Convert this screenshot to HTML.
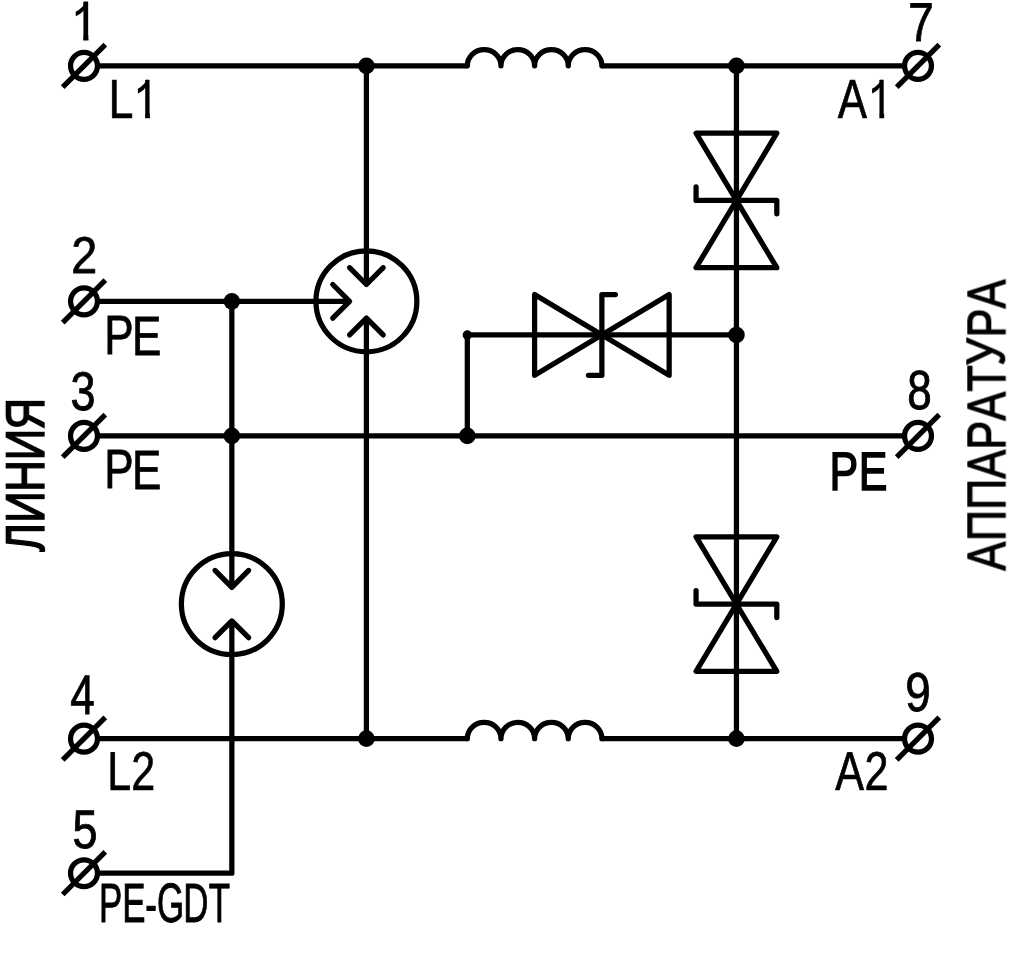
<!DOCTYPE html>
<html lang="ru">
<head>
<meta charset="utf-8">
<title>Схема</title>
<style>
html, body { margin: 0; padding: 0; background: #fff; }
body { width: 1036px; height: 956px; overflow: hidden; font-family: "Liberation Sans", sans-serif; }
svg { display: block; }
svg text { font-family: "Liberation Sans", sans-serif; fill: #000; text-rendering: geometricPrecision; }
</style>
</head>
<body>
<svg width="1036" height="956" viewBox="0 0 1036 956">
<defs>
<clipPath id="c1"><path d="M83.25,-1.00 H88.40 V43.80 H83.25 Z"/></clipPath>
<clipPath id="c2"><path d="M145.13,76.06 H149.91 V121.03 H145.13 Z M109.00,76.06 H133.40 V121.03 H109.00 Z"/></clipPath>
<clipPath id="c3"><path d="M879.36,76.06 H884.16 V121.03 H879.36 Z M835.08,76.06 H868.53 V121.03 H835.08 Z"/></clipPath>
</defs>
<rect x="0" y="0" width="1036" height="956" fill="#fff"/>
<g fill="none" stroke="#000" stroke-width="5.25">
<line x1="97.46" y1="65.85" x2="467.32" y2="65.85" stroke-linecap="butt"/>
<line x1="601.88" y1="65.85" x2="904.54" y2="65.85" stroke-linecap="butt"/>
<path d="M467.32,65.85 a16.82,16.17 0 0 1 33.64,0 a16.82,16.17 0 0 1 33.64,0 a16.82,16.17 0 0 1 33.64,0 a16.82,16.17 0 0 1 33.64,0" stroke-linecap="round" stroke-linejoin="round"/>
<line x1="97.46" y1="738.65" x2="467.32" y2="738.65" stroke-linecap="butt"/>
<line x1="601.88" y1="738.65" x2="904.54" y2="738.65" stroke-linecap="butt"/>
<path d="M467.32,738.65 a16.82,16.17 0 0 1 33.64,0 a16.82,16.17 0 0 1 33.64,0 a16.82,16.17 0 0 1 33.64,0 a16.82,16.17 0 0 1 33.64,0" stroke-linecap="round" stroke-linejoin="round"/>
<line x1="97.46" y1="435.89" x2="904.54" y2="435.89" stroke-linecap="butt"/>
<line x1="97.46" y1="301.33" x2="349.58" y2="301.33" stroke-linecap="butt"/>
<line x1="231.84" y1="301.33" x2="231.84" y2="587.27" stroke-linecap="butt"/>
<path d="M231.84,620.91 L231.84,873.21 L97.46,873.21" stroke-linejoin="round"/>
<line x1="366.40" y1="65.85" x2="366.40" y2="284.51" stroke-linecap="butt"/>
<line x1="366.40" y1="318.15" x2="366.40" y2="738.65" stroke-linecap="butt"/>
<line x1="736.44" y1="65.85" x2="736.44" y2="738.65" stroke-linecap="butt"/>
<path d="M467.32,435.89 L467.32,334.97 L736.44,334.97" stroke-linejoin="round"/>
<circle cx="467.32" cy="334.97" r="4.70" fill="#000" stroke="none"/>
<circle cx="366.40" cy="301.33" r="50.46"/>
<path d="M349.58,267.69 L366.40,284.51 L383.22,267.69" stroke-linecap="round" stroke-linejoin="round"/>
<path d="M349.58,334.97 L366.40,318.15 L383.22,334.97" stroke-linecap="round" stroke-linejoin="round"/>
<path d="M332.76,284.51 L349.58,301.33 L332.76,318.15" stroke-linecap="round" stroke-linejoin="round"/>
<circle cx="231.84" cy="604.09" r="50.46"/>
<path d="M215.02,570.45 L231.84,587.27 L248.66,570.45" stroke-linecap="round" stroke-linejoin="round"/>
<path d="M215.02,637.73 L231.84,620.91 L248.66,637.73" stroke-linecap="round" stroke-linejoin="round"/>
<path d="M696.07,133.13 L776.81,133.13 L696.07,267.69 L776.81,267.69 Z" stroke-linejoin="round"/>
<path d="M696.07,186.95 L696.07,200.41 L776.81,200.41 L776.81,213.87" stroke-linecap="round" stroke-linejoin="round"/>
<path d="M696.07,536.81 L776.81,536.81 L696.07,671.37 L776.81,671.37 Z" stroke-linejoin="round"/>
<path d="M696.07,590.63 L696.07,604.09 L776.81,604.09 L776.81,617.55" stroke-linecap="round" stroke-linejoin="round"/>
<path d="M534.60,294.60 L534.60,375.34 L669.16,294.60 L669.16,375.34 Z" stroke-linejoin="round"/>
<path d="M615.34,294.60 L601.88,294.60 L601.88,375.34 L588.42,375.34" stroke-linecap="round" stroke-linejoin="round"/>
<circle cx="366.40" cy="65.85" r="8.30" fill="#000" stroke="none"/>
<circle cx="736.44" cy="65.85" r="8.30" fill="#000" stroke="none"/>
<circle cx="231.84" cy="301.33" r="8.30" fill="#000" stroke="none"/>
<circle cx="231.84" cy="435.89" r="8.30" fill="#000" stroke="none"/>
<circle cx="467.32" cy="435.89" r="8.30" fill="#000" stroke="none"/>
<circle cx="736.44" cy="334.97" r="8.30" fill="#000" stroke="none"/>
<circle cx="366.40" cy="738.65" r="8.30" fill="#000" stroke="none"/>
<circle cx="736.44" cy="738.65" r="8.30" fill="#000" stroke="none"/>
<circle cx="84.00" cy="65.85" r="13.46"/>
<line x1="62.70" y1="87.15" x2="105.30" y2="44.55" stroke-linecap="butt"/>
<circle cx="84.00" cy="301.33" r="13.46"/>
<line x1="62.70" y1="322.63" x2="105.30" y2="280.03" stroke-linecap="butt"/>
<circle cx="84.00" cy="435.89" r="13.46"/>
<line x1="62.70" y1="457.19" x2="105.30" y2="414.59" stroke-linecap="butt"/>
<circle cx="84.00" cy="738.65" r="13.46"/>
<line x1="62.70" y1="759.95" x2="105.30" y2="717.35" stroke-linecap="butt"/>
<circle cx="84.00" cy="873.21" r="13.46"/>
<line x1="62.70" y1="894.51" x2="105.30" y2="851.91" stroke-linecap="butt"/>
<circle cx="918.00" cy="65.85" r="13.46"/>
<line x1="896.70" y1="87.15" x2="939.30" y2="44.55" stroke-linecap="butt"/>
<circle cx="918.00" cy="435.89" r="13.46"/>
<line x1="896.70" y1="457.19" x2="939.30" y2="414.59" stroke-linecap="butt"/>
<circle cx="918.00" cy="738.65" r="13.46"/>
<line x1="896.70" y1="759.95" x2="939.30" y2="717.35" stroke-linecap="butt"/>
</g>
<g opacity="0.999">
<g clip-path="url(#c1)"><text transform="scale(0.4863 0.5523)" x="146.85" y="73.14" font-size="100" stroke="#000" stroke-width="1.540" stroke-linejoin="miter">1</text></g><path d="M84.26,10.57 L83.25,10.57 Q82.61,12.20 80.14,13.83 Q77.67,15.47 75.70,16.29 L75.70,11.70 Q79.24,9.83 81.88,7.17 Q84.53,4.50 85.63,2.00 L85.63,2.00 Z" fill="#000"/>
<text transform="scale(0.4669 0.5174)" x="152.35" y="528.43" font-size="100" stroke="#000" stroke-width="1.625" stroke-linejoin="miter">2</text>
<text transform="scale(0.4493 0.5459)" x="157.13" y="751.36" font-size="100" stroke="#000" stroke-width="1.608" stroke-linejoin="miter">3</text>
<text transform="scale(0.4390 0.5561)" x="160.31" y="1284.20" font-size="100" stroke="#000" stroke-width="1.608" stroke-linejoin="miter">4</text>
<text transform="scale(0.4493 0.5432)" x="161.60" y="1561.51" font-size="100" stroke="#000" stroke-width="1.612" stroke-linejoin="miter">5</text>
<text transform="scale(0.4576 0.5451)" x="1985.01" y="74.30" font-size="100" stroke="#000" stroke-width="1.596" stroke-linejoin="miter">7</text>
<text transform="scale(0.4403 0.5523)" x="2060.67" y="740.35" font-size="100" stroke="#000" stroke-width="1.612" stroke-linejoin="miter">8</text>
<text transform="scale(0.4579 0.5501)" x="1976.85" y="1292.43" font-size="100" stroke="#000" stroke-width="1.587" stroke-linejoin="miter">9</text>
<g clip-path="url(#c2)"><text transform="scale(0.4483 0.5509)" x="241.77 299.10" y="213.71 213.71" font-size="100" stroke="#000" stroke-width="1.201" stroke-linejoin="miter">L1</text></g><path d="M146.09,87.66 L145.13,87.66 Q144.42,89.31 142.08,90.95 Q139.74,92.59 137.87,93.41 L137.87,88.80 Q141.22,86.92 143.73,84.25 Q146.24,81.57 147.28,79.06 L147.28,79.06 Z" fill="#000"/>
<text transform="scale(0.4403 0.5538)" x="236.81 300.02" y="639.03 640.48" font-size="100" stroke="#000" stroke-width="1.408" stroke-linejoin="miter">PE</text>
<text transform="scale(0.4403 0.5538)" x="236.81 300.02" y="882.02 883.46" font-size="100" stroke="#000" stroke-width="1.408" stroke-linejoin="miter">PE</text>
<text transform="scale(0.4310 0.5482)" x="249.06 304.70" y="1441.14 1441.14" font-size="100" stroke="#000" stroke-width="1.225" stroke-linejoin="miter">L2</text>
<text transform="scale(0.3491 0.5541)" x="283.24 349.99 416.06 449.73 524.97 597.62" y="1664.49 1664.49 1666.20 1664.49 1664.74 1664.74" font-size="100" stroke="#000" stroke-width="1.771" stroke-linejoin="miter">PE-GDT</text>
<g clip-path="url(#c3)"><text transform="scale(0.4388 0.5510)" x="1909.46 1979.20" y="213.68 213.68" font-size="100" stroke="#000" stroke-width="1.212" stroke-linejoin="miter">A1</text></g><path d="M880.32,87.66 L879.36,87.66 Q878.65,89.31 876.29,90.95 Q873.94,92.59 872.07,93.41 L872.07,88.80 Q875.44,86.92 877.96,84.25 Q880.48,81.57 881.52,79.06 L881.52,79.06 Z" fill="#000"/>
<text transform="scale(0.4299 0.5413)" x="1929.55 1997.36" y="905.40 905.40" font-size="100" stroke="#000" stroke-width="2.883" stroke-linejoin="miter">PE</text>
<text transform="scale(0.4319 0.5482)" x="1933.69 2001.65" y="1441.45 1441.14" font-size="100" stroke="#000" stroke-width="1.224" stroke-linejoin="miter">A2</text>
<text transform="rotate(-90) scale(0.4375 0.5456)" x="-1261.08 -1194.88 -1124.03 -1052.22 -981.80" y="80.42 81.20 81.20 81.20 81.20" font-size="100" stroke="#000" stroke-width="2.848">ЛИНИЯ</text>
<text transform="rotate(-90) scale(0.4334 0.5450)" x="-1316.42 -1248.39 -1176.50 -1104.48 -1037.41 -970.70 -903.88 -843.54 -778.52 -711.56" y="1844.33 1844.33 1844.33 1844.33 1844.33 1844.33 1844.33 1843.36 1844.33 1844.33" font-size="100" stroke="#000" stroke-width="2.044">АППАРАТУРА</text>
</g>
</svg>
</body>
</html>
